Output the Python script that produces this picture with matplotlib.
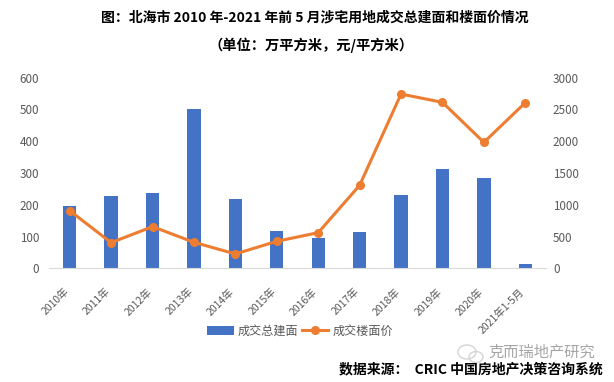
import matplotlib
matplotlib.use("Agg")
from matplotlib import pyplot as plt
from matplotlib.patches import Ellipse
from matplotlib.transforms import ScaledTranslation

plt.rcParams['font.family'] = ['Noto Sans CJK SC', 'DejaVu Sans']

W, H = 614, 382

categories = ['2010年', '2011年', '2012年', '2013年', '2014年', '2015年', '2016年',
              '2017年', '2018年', '2019年', '2020年', '2021年1-5月']
build_area = [196, 228, 237, 501, 218, 117, 96, 114, 231, 313, 284, 14]
floor_price = [907, 404, 656, 409, 226, 425, 561, 1306, 2743, 2612, 1983, 2607]
left_ticks = [0, 100, 200, 300, 400, 500, 600]
right_ticks = [0, 500, 1000, 1500, 2000, 2500, 3000]

blue = '#4472C4'
orange = '#ED7D31'
grey = '#595959'

fig = plt.figure(figsize=(W / 100, H / 100), dpi=100)
ax = fig.add_axes([49 / W, 1 - 268.3 / H, 497 / W, 190.6 / H])
ax2 = ax.twinx()

x = list(range(len(categories)))
bars = ax.bar(x, build_area, width=0.32, color=blue, label='成交总建面')
line, = ax2.plot(x, floor_price, color=orange, lw=2.2, marker='o', ms=5.5,
                 label='成交楼面价')

ax.set_xlim(-0.5, 11.5)
ax.set_ylim(0, 600)
ax2.set_ylim(0, 3000)
ax.set_yticks(left_ticks)
ax2.set_yticks(right_ticks)
ax.set_xticks(x)
ax.set_xticklabels(categories, rotation=45, ha='right', rotation_mode='anchor',
                   fontsize=7.5, color=grey)

for a in (ax, ax2):
    for s in a.spines.values():
        s.set_visible(False)
    a.tick_params(length=0, labelsize=8.4, labelcolor=grey)
ax.spines['bottom'].set_visible(True)
ax.spines['bottom'].set_color('#D9D9D9')
ax.tick_params(axis='x', labelsize=7.5, pad=13)
ax.tick_params(axis='y', pad=7)
ax2.tick_params(axis='y', pad=5)

# excel puts the end of the rotated label under the bar centre
shift = ScaledTranslation(-6 / 100, 0, fig.dpi_scale_trans)
for lab in ax.get_xticklabels():
    lab.set_transform(lab.get_transform() + shift)

fig.legend([bars, line], ['成交总建面', '成交楼面价'], loc='center',
           bbox_to_anchor=(300 / W, 1 - 331 / H), ncol=2, frameon=False,
           fontsize=8.7, labelcolor=grey, columnspacing=0.25, handlelength=2.2,
           handletextpad=0.35)

fig.text(315 / W, 1 - 17 / H, '图：北海市 2010 年-2021 年前 5 月涉宅用地成交总建面和楼面价情况',
         ha='center', va='center', fontsize=10, fontweight='bold', color='black')
fig.text(311 / W, 1 - 45 / H, '（单位：万平方米，元/平方米）',
         ha='center', va='center', fontsize=10.3, fontweight='bold', color='black')

# watermark
fig.add_artist(Ellipse((467 / W, 1 - 352 / H), 18 / W, 14 / H, fill=False,
                       ec='#d4d4d4', lw=1, transform=fig.transFigure))
fig.add_artist(Ellipse((476 / W, 1 - 357 / H), 14 / W, 11 / H, fill=False,
                       ec='#d4d4d4', lw=1, transform=fig.transFigure))
fig.text(542 / W, 1 - 352 / H, '克而瑞地产研究', ha='center', va='center',
         fontsize=11, color='#a6a6a6')
fig.text(471 / W, 1 - 369 / H, '数据来源：  CRIC 中国房地产决策咨询系统',
         ha='center', va='center', fontsize=10, fontweight='bold', color='black')

fig.savefig('out.png', dpi=100)
